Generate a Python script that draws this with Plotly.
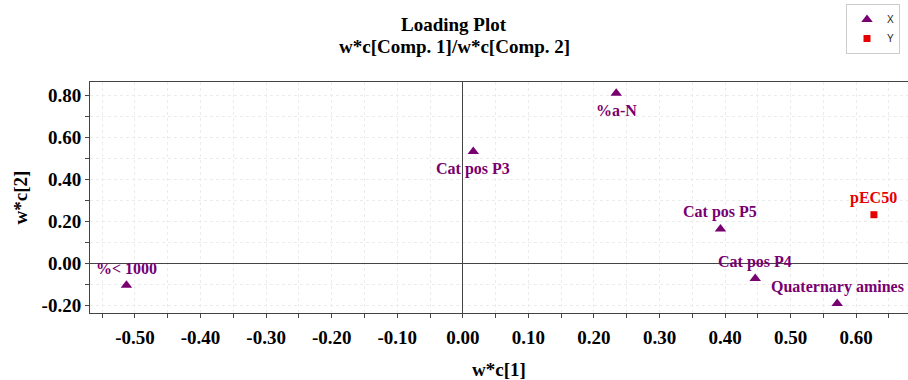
import plotly.graph_objects as go

# ---- data ----
x_names = ["%< 1000", "%a-N", "Cat pos P3", "Cat pos P5", "Cat pos P4", "Quaternary amines"]
x_wc1 = [-0.513, 0.234, 0.016, 0.393, 0.446, 0.571]
x_wc2 = [-0.104, 0.811, 0.533, 0.164, -0.072, -0.191]
x_label_side = ["above", "below", "below", "above", "above", "above"]

y_names = ["pEC50"]
y_wc1 = [0.627]
y_wc2 = [0.232]
y_label_side = ["above"]

xtick_vals = [-0.5, -0.4, -0.3, -0.2, -0.1, 0.0, 0.1, 0.2, 0.3, 0.4, 0.5, 0.6]
xtick_text = ["-0.50", "-0.40", "-0.30", "-0.20", "-0.10", "0.00", "0.10", "0.20", "0.30", "0.40", "0.50", "0.60"]
ytick_vals = [-0.2, 0.0, 0.2, 0.4, 0.6, 0.8]
ytick_text = ["-0.20", "0.00", "0.20", "0.40", "0.60", "0.80"]

title_lines = ["Loading Plot", "w*c[Comp. 1]/w*c[Comp. 2]"]

PURPLE = "#780070"
RED = "#e60000"
SERIF = "Liberation Serif, Times New Roman, serif"
GRID = "#ececec"

fig = go.Figure()
fig.add_trace(go.Scatter(x=x_wc1, y=x_wc2, mode="markers", name="X",
                         marker=dict(symbol="triangle-up", size=10, color=PURPLE),
                         hovertext=x_names))
fig.add_trace(go.Scatter(x=y_wc1, y=y_wc2, mode="markers", name="Y",
                         marker=dict(symbol="square", size=7, color=RED),
                         hovertext=y_names))

annotations = []
for names, xs, ys, sides, col in [(x_names, x_wc1, x_wc2, x_label_side, PURPLE),
                                   (y_names, y_wc1, y_wc2, y_label_side, RED)]:
    for n, xv, yv, s in zip(names, xs, ys, sides):
        annotations.append(dict(x=xv, y=yv, xref="x", yref="y", text=n, showarrow=False,
                                yshift=17 if s == "above" else -17,
                                font=dict(family=SERIF, size=16, color=col, weight="bold")))

# two-line title, centred on the page
for line, ypos in zip(title_lines, [1.251, 1.153]):
    annotations.append(dict(x=0.445, y=ypos, xref="paper", yref="paper", text=line,
                            showarrow=False, xanchor="center", yanchor="middle",
                            font=dict(family=SERIF, size=19, color="black", weight="bold")))

fig.update_layout(
    width=908, height=380,
    margin=dict(l=90, r=0, t=82, b=67, autoexpand=False),
    paper_bgcolor="white", plot_bgcolor="white",
    annotations=annotations,
    showlegend=True,
    legend=dict(xref="container", yref="container", x=846 / 908, y=1 - 4 / 380,
                xanchor="left", yanchor="top",
                bgcolor="white", bordercolor="#cccccc", borderwidth=1,
                font=dict(family="Liberation Sans, Arial, sans-serif", size=10, color="#222"),
                tracegroupgap=0, itemwidth=30),
    xaxis=dict(range=[-0.5686, 0.679], tickvals=xtick_vals, ticktext=xtick_text,
               automargin=False,
               tickfont=dict(family=SERIF, size=19, color="black", weight="bold"),
               ticks="outside", ticklen=4, tickcolor="#444",
               minor=dict(dtick=0.05, ticks="outside", ticklen=4, tickcolor="#444",
                          showgrid=True, gridcolor=GRID, griddash="dot"),
               showgrid=True, gridcolor=GRID, griddash="dot",
               zeroline=True, zerolinecolor="#444", zerolinewidth=1,
               showline=True, linecolor="#444", linewidth=1, mirror=True,
               ticklabelstandoff=3,
               title=dict(text="w*c[1]", standoff=21,
                          font=dict(family=SERIF, size=19, color="black", weight="bold"))),
    yaxis=dict(range=[-0.236, 0.864], tickvals=ytick_vals, ticktext=ytick_text,
               automargin=False,
               tickfont=dict(family=SERIF, size=19, color="black", weight="bold"),
               ticks="outside", ticklen=4, tickcolor="#444",
               minor=dict(dtick=0.1, ticks="outside", ticklen=4, tickcolor="#444",
                          showgrid=True, gridcolor=GRID, griddash="dot"),
               showgrid=True, gridcolor=GRID, griddash="dot",
               zeroline=True, zerolinecolor="#444", zerolinewidth=1,
               showline=True, linecolor="#444", linewidth=1,
               title=dict(text="w*c[2]", standoff=8,
                          font=dict(family=SERIF, size=19, color="black", weight="bold"))),
)

fig.write_html("out.html", config={"displayModeBar": False},
               post_script="document.body.style.margin='0';document.body.style.overflow='hidden';")
